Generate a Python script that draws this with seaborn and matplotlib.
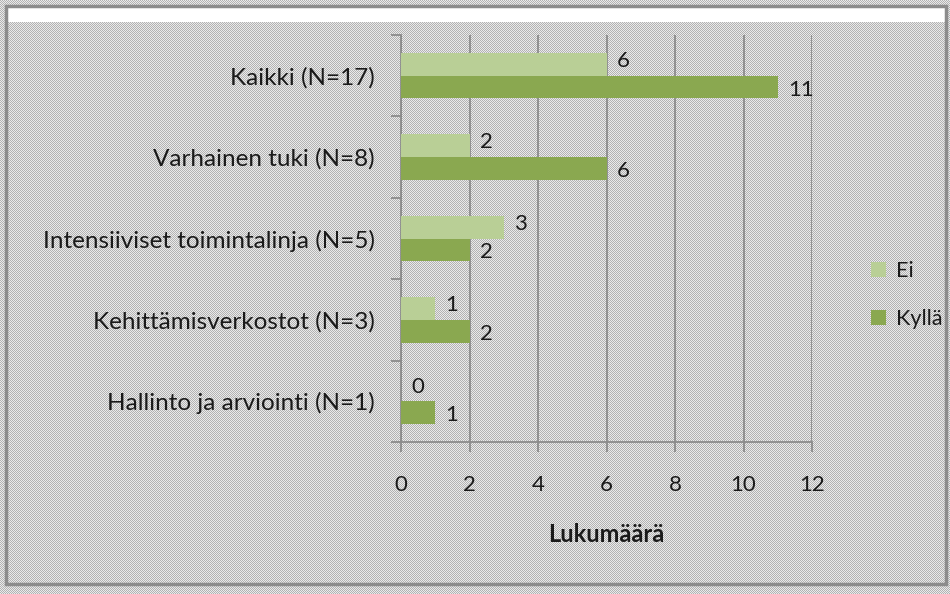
import numpy as np
import pandas as pd
import matplotlib
matplotlib.use("Agg")
import matplotlib.pyplot as plt
import seaborn as sns
from matplotlib.patches import Rectangle, Patch

categories = ["Kaikki (N=17)", "Varhainen tuki (N=8)", "Intensiiviset toimintalinja (N=5)",
              "Kehittämisverkostot (N=3)", "Hallinto ja arviointi (N=1)"]
ei_values = [6, 2, 3, 1, 0]
kylla_values = [11, 6, 2, 2, 1]
series_names = ["Ei", "Kyllä"]
x_ticks = [0, 2, 4, 6, 8, 10, 12]
x_label = "Lukumäärä"

colors = {"Ei": "#b9cf96", "Kyllä": "#8aa850"}

df = pd.DataFrame({
    "cat": categories * 2,
    "val": ei_values + kylla_values,
    "series": ["Ei"] * len(categories) + ["Kyllä"] * len(categories),
})

sns.set_theme(style="white")
plt.rcParams["font.family"] = ["Lato", "DejaVu Sans"]

W, H = 950, 594
fig = plt.figure(figsize=(W / 100, H / 100), dpi=100)
fig.patch.set_facecolor("#cccccc")

# dithered background pattern
yy, xx = np.mgrid[0:H, 0:W]
checker = ((xx + yy) % 2 == 0)
img = np.where(checker[..., None], np.array([0.70, 0.70, 0.70]), np.array([0.92, 0.92, 0.92]))
fig.figimage(img, xo=0, yo=0, zorder=-10)

# white strip at top and frame
fig.patches.append(Rectangle((7 / W, 1 - 22 / H), (945 - 7) / W, 15 / H, transform=fig.transFigure,
                             facecolor="white", edgecolor="none", zorder=-5))
fig.patches.append(Rectangle((6 / W, 1 - 584 / H), (946 - 6) / W, (584 - 6) / H, transform=fig.transFigure,
                             facecolor="none", edgecolor="#8c8c8c", lw=2.5, zorder=-4))

ax = fig.add_axes([401 / W, 1 - 442 / H, (812 - 401) / W, (442 - 35) / H])
ax.set_facecolor("none")
sns.barplot(data=df, y="cat", x="val", hue="series", hue_order=series_names, order=categories,
            palette=colors, orient="h", width=0.56, ax=ax, saturation=1, legend=False, zorder=3,
            linewidth=0, edgecolor="none")

ax.set_xlim(0, 12)
ax.set_ylim(4.5, -0.5)
ax.set_xticks(x_ticks)
ax.set_xticklabels([str(t) for t in x_ticks])
ax.grid(axis="x", color="#8c8c8c", lw=1.3, zorder=1)
ax.grid(axis="y", visible=False)
ax.set_axisbelow(True)
for s in ["top", "right"]:
    ax.spines[s].set_visible(False)
for s in ["left", "bottom"]:
    ax.spines[s].set_color("#8c8c8c")
    ax.spines[s].set_linewidth(1.3)

ax.tick_params(axis="x", length=7, width=1.3, color="#8c8c8c", pad=17, labelsize=16, labelcolor="#1a1a1a", direction="out", bottom=True)
ax.tick_params(axis="y", which="major", length=0, pad=19, labelsize=17.5, labelcolor="#1a1a1a")
ax.set_yticks(np.arange(-0.5, 5.0, 1.0), minor=True)
ax.tick_params(axis="y", which="minor", length=7, width=1.3, color="#8c8c8c", direction="out", left=True)

ax.set_ylabel("")
ax.set_xlabel(x_label, fontsize=17, fontweight="bold", color="#1a1a1a", labelpad=20)

# value labels
for i, c in enumerate(ax.containers):
    for bar, v in zip(c, (ei_values, kylla_values)[i]):
        y = bar.get_y() + bar.get_height() / 2
        dy = -0.04 if i == 0 else 0.03
        ax.text(v + 0.3, y + dy, str(v), va="center", ha="left", fontsize=16, color="#1a1a1a")

handles = [Patch(facecolor=colors[n], edgecolor="none") for n in series_names]
fig.legend(handles, series_names, loc="center left", bbox_to_anchor=(856 / W, 1 - 295 / H),
           frameon=False, fontsize=15.5, handlelength=0.7, handleheight=0.7, handletextpad=0.45,
           labelspacing=1.3, labelcolor="#1a1a1a", borderpad=0.2)

fig.savefig("out.png", dpi=100)
